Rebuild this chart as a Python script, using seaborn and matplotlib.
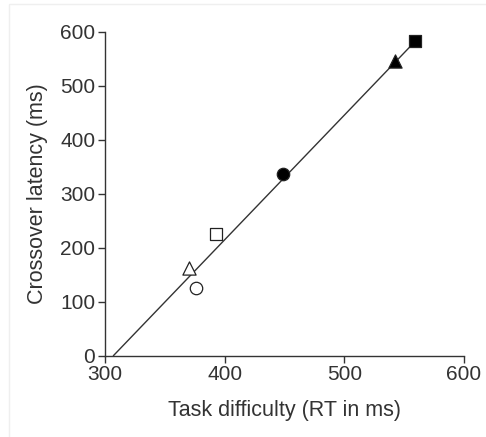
import matplotlib
matplotlib.use("Agg")
import matplotlib.pyplot as plt
import seaborn as sns
from matplotlib.patches import Rectangle

# Data
conditions = ["open circle", "open triangle", "open square", "filled circle", "filled triangle", "filled square"]
task_difficulty = [376, 370, 393, 449, 542, 559]
crossover_latency = [125, 163, 226, 336, 546, 583]
marker_shapes = ["o", "^", "s", "o", "^", "s"]
marker_fills = ["white", "white", "white", "black", "black", "black"]
fit_x = [307, 560]
fit_y = [0, 584]
x_ticks = [300, 400, 500, 600]
y_ticks = [0, 100, 200, 300, 400, 500, 600]

sns.set_style("white")
plt.rcParams['font.family'] = ['Liberation Sans', 'DejaVu Sans']

fig = plt.figure(figsize=(4.86, 4.37), dpi=100)
fig.patches.append(Rectangle((9/486, -0.01), 1.0, 1 - 4/437 + 0.01, transform=fig.transFigure,
                             fill=False, edgecolor='#efefef', linewidth=1))
ax = fig.add_axes([105/486, 1 - 355.7/437, (464 - 105)/486, (355.7 - 31.7)/437])

sns.lineplot(x=fit_x, y=fit_y, ax=ax, color='#333333', linewidth=1.0)

sizes = {"o": 80, "^": 90, "s": 68}
for x, y, m, fc in zip(task_difficulty, crossover_latency, marker_shapes, marker_fills):
    sns.scatterplot(x=[x], y=[y], ax=ax, marker=m, color=fc, edgecolor='#222222',
                    linewidth=0.9, s=sizes[m], zorder=3)

ax.set_xlim(300, 600)
ax.set_ylim(0, 600)
ax.set_xticks(x_ticks)
ax.set_yticks(y_ticks)
ax.tick_params(axis='both', direction='out', length=5, width=1, color='#333333',
               labelsize=15, labelcolor='#333333', pad=2, bottom=True, left=True)
for side in ['top', 'right']:
    ax.spines[side].set_visible(False)
for side in ['left', 'bottom']:
    ax.spines[side].set_color('#333333')
    ax.spines[side].set_linewidth(1)
ax.set_xlabel("Task difficulty (RT in ms)", fontsize=15.5, color='#333333', labelpad=11)
ax.set_ylabel("Crossover latency (ms)", fontsize=15.5, color='#333333', labelpad=9)

fig.savefig("out.png", dpi=100)
